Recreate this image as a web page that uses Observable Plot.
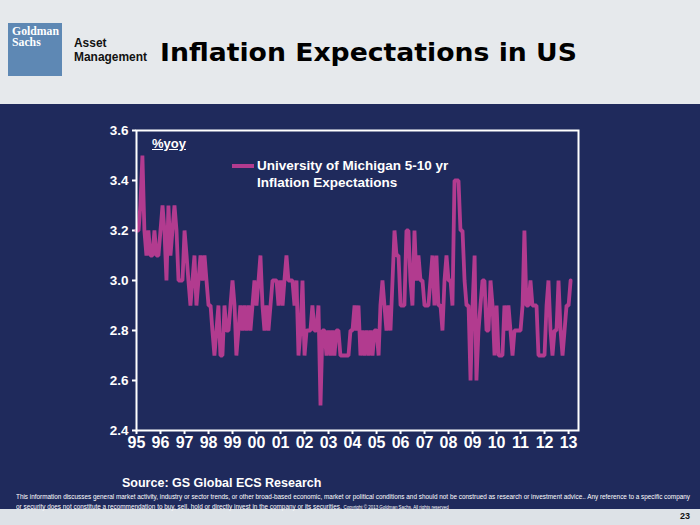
<!DOCTYPE html>
<html><head><meta charset="utf-8">
<script src="https://cdn.jsdelivr.net/npm/d3@7"></script>
<script src="https://cdn.jsdelivr.net/npm/@observablehq/plot@0.6"></script>
<style>
body{margin:0;background:#fff;}
#slide{position:relative;width:700px;height:525px;background:#1f2a5c;overflow:hidden;font-family:"Liberation Sans",Arial,sans-serif;}
#header{position:absolute;left:0;top:0;width:700px;height:104px;background:#e6e9ec;}
#logo{position:absolute;left:8px;top:23px;width:54px;height:53px;background:#5e88b4;}
.lg{position:absolute;left:4px;color:#fff;font-family:"Liberation Serif",serif;font-weight:bold;font-size:11.5px;line-height:11px;height:11px;white-space:nowrap;transform-origin:0 0;}
#am{position:absolute;left:74px;top:36px;font-weight:bold;font-size:13px;line-height:14px;color:#111;transform-origin:0 0;white-space:nowrap;}
#title{position:absolute;left:160px;top:41px;font-family:"DejaVu Sans",sans-serif;font-weight:bold;font-size:24px;line-height:24px;color:#000;white-space:nowrap;transform-origin:0 0;}
#chart{position:absolute;left:0;top:104px;}
#yoy{position:absolute;left:152px;top:136px;color:#fff;font-weight:bold;font-size:13px;text-decoration:underline;}
#legline{position:absolute;left:232px;top:164px;width:22px;height:3.5px;background:#b23b8f;}
#legtxt{position:absolute;left:257px;top:157px;color:#fff;font-weight:bold;font-size:13.5px;line-height:17px;}
#source{position:absolute;left:122px;top:476px;color:#fff;font-weight:bold;font-size:12.5px;}
#disc{position:absolute;left:16px;top:492px;color:#fff;font-size:7.2px;line-height:10px;white-space:nowrap;}
#disc span{display:block;transform-origin:0 0;}
#disc small{font-size:5px;}
#footer{position:absolute;left:0;top:509px;width:700px;height:16px;background:#dde2e7;}
#page{position:absolute;left:680px;top:511px;font-weight:bold;font-size:9px;color:#111;}
</style></head>
<body>
<div id="slide">
  <div id="header"></div>
  <div id="logo"><div class="lg" id="g1" style="top:3px">Goldman</div><div class="lg" id="g2" style="top:14px">Sachs</div></div>
  <div id="am"><span id="am1">Asset</span><br><span id="am2">Management</span></div>
  <div id="title">Inflation Expectations in US</div>
  <div id="footer"></div>
  <div id="chart"></div>
  <div id="yoy">%yoy</div>
  <div id="legline"></div>
  <div id="legtxt">University of Michigan 5-10 yr<br>Inflation Expectations</div>
  <div id="source">Source: GS Global ECS Research</div>
  <div id="disc"><span id="d1">This information discusses general market activity, industry or sector trends, or other broad-based economic, market or political conditions and should not be construed as research or investment advice.. Any reference to a specific company</span><span id="d2">or security does not constitute a recommendation to buy, sell, hold or directly invest in the company or its securities. <small>Copyright © 2013 Goldman Sachs. All rights reserved</small></span></div>
  <div id="page">23</div>
</div>
<script>
// Monthly series, starting January 1995
const startYear = 1995;
const michigan5to10 = [
  3.2,3.2,3.3,3.5,3.2,3.1,3.2,3.1,3.1,3.2,3.1,3.1,
  3.2,3.3,3.2,3.0,3.3,3.1,3.2,3.3,3.2,3.0,3.0,3.0,
  3.2,3.1,3.0,2.9,3.0,3.1,2.9,3.0,3.1,3.0,3.1,3.0,
  2.9,2.9,2.8,2.7,2.8,2.9,2.7,2.7,2.9,2.8,2.8,2.9,
  3.0,2.9,2.7,2.8,2.9,2.8,2.9,2.8,2.9,2.8,2.9,3.0,
  2.9,3.0,3.1,2.9,2.8,2.9,2.8,2.9,3.0,3.0,3.0,2.9,
  3.0,2.9,3.0,3.1,3.0,3.0,3.0,2.9,3.0,2.7,2.8,3.0,
  2.7,2.8,2.8,2.8,2.9,2.8,2.8,2.9,2.5,2.8,2.8,2.7,
  2.8,2.7,2.8,2.7,2.8,2.8,2.7,2.7,2.7,2.7,2.7,2.8,
  2.8,2.9,2.8,2.9,2.7,2.8,2.7,2.8,2.7,2.8,2.7,2.8,
  2.8,2.7,2.9,3.0,2.9,2.8,2.9,2.8,3.0,3.2,3.1,3.1,
  2.9,2.9,2.9,3.2,3.2,3.0,2.9,3.2,3.0,3.1,3.0,3.0,
  2.9,2.9,2.9,3.0,3.1,2.9,3.1,2.9,2.9,2.8,3.0,3.1,
  3.0,3.0,2.9,3.4,3.4,3.4,3.2,3.2,3.0,2.9,2.9,2.6,
  2.9,3.1,2.6,2.8,2.9,3.0,3.0,2.8,2.8,3.0,2.9,2.7,
  2.9,2.7,2.7,2.7,2.9,2.8,2.9,2.8,2.7,2.8,2.8,2.8,
  2.8,2.9,3.2,2.9,2.9,3.0,2.9,2.9,2.9,2.7,2.7,2.7,
  2.7,2.9,3.0,2.8,2.7,2.8,2.8,3.0,2.8,2.7,2.8,2.9,
  2.9,3.0
];
const xTickLabels = ["95","96","97","98","99","00","01","02","03","04","05","06","07","08","09","10","11","12","13"];
const yTickValues = [2.4,2.6,2.8,3.0,3.2,3.4,3.6];

const data = michigan5to10.map((v,i)=>({date:new Date(Date.UTC(startYear, i, 1)), value:v}));
const yearTicks = xTickLabels.map((_,i)=>new Date(Date.UTC(startYear+i,0,1)));

const plot = Plot.plot({
  width:700, height:356,
  marginLeft:136, marginRight:122, marginTop:26, marginBottom:30,
  style:{background:"transparent", color:"#fff", fontFamily:"'Liberation Sans', Arial, sans-serif", fontWeight:"bold"},
  x:{type:"utc", domain:[new Date(Date.UTC(1995,0,1)), new Date(Date.UTC(2013,5,1))]},
  y:{domain:[2.4,3.6]},
  marks:[
    Plot.axisX({ticks:yearTicks, tickFormat:(d,i)=>xTickLabels[i], tickSize:4, tickPadding:2, fontSize:16, label:null, stroke:"#fff", strokeWidth:2}),
    Plot.axisY({ticks:yTickValues, tickFormat:d=>d.toFixed(1), tickSize:4, tickPadding:4, fontSize:13.5, label:null, stroke:"#fff", strokeWidth:2}),
    Plot.lineY(data,{x:"date", y:"value", stroke:"#b23b8f", strokeWidth:3.8, strokeLinejoin:"miter"}),
    Plot.frame({stroke:"#fff", strokeWidth:2})
  ]
});
document.getElementById("chart").appendChild(plot);

// fit small texts to the widths seen on the slide
function scaleTo(el, target){
  const prev = el.style.display;
  el.style.display = "inline-block";
  const w = el.getBoundingClientRect().width;
  el.style.display = prev;
  return target / w;
}
const d1 = document.getElementById("d1"), d2 = document.getElementById("d2");
const s = scaleTo(d1, 674);
d1.style.transform = d2.style.transform = `scaleX(${s})`;
const t = document.getElementById("title");
t.style.transform = `scaleX(${scaleTo(t, 417)})`;
const am = document.getElementById("am");
am.style.transform = `scaleX(${scaleTo(document.getElementById("am2"), 73)})`;
const g1 = document.getElementById("g1"), g2 = document.getElementById("g2");
const gs = scaleTo(g1, 47);
g1.style.transform = g2.style.transform = `scaleX(${gs})`;
</script>
</body></html>
